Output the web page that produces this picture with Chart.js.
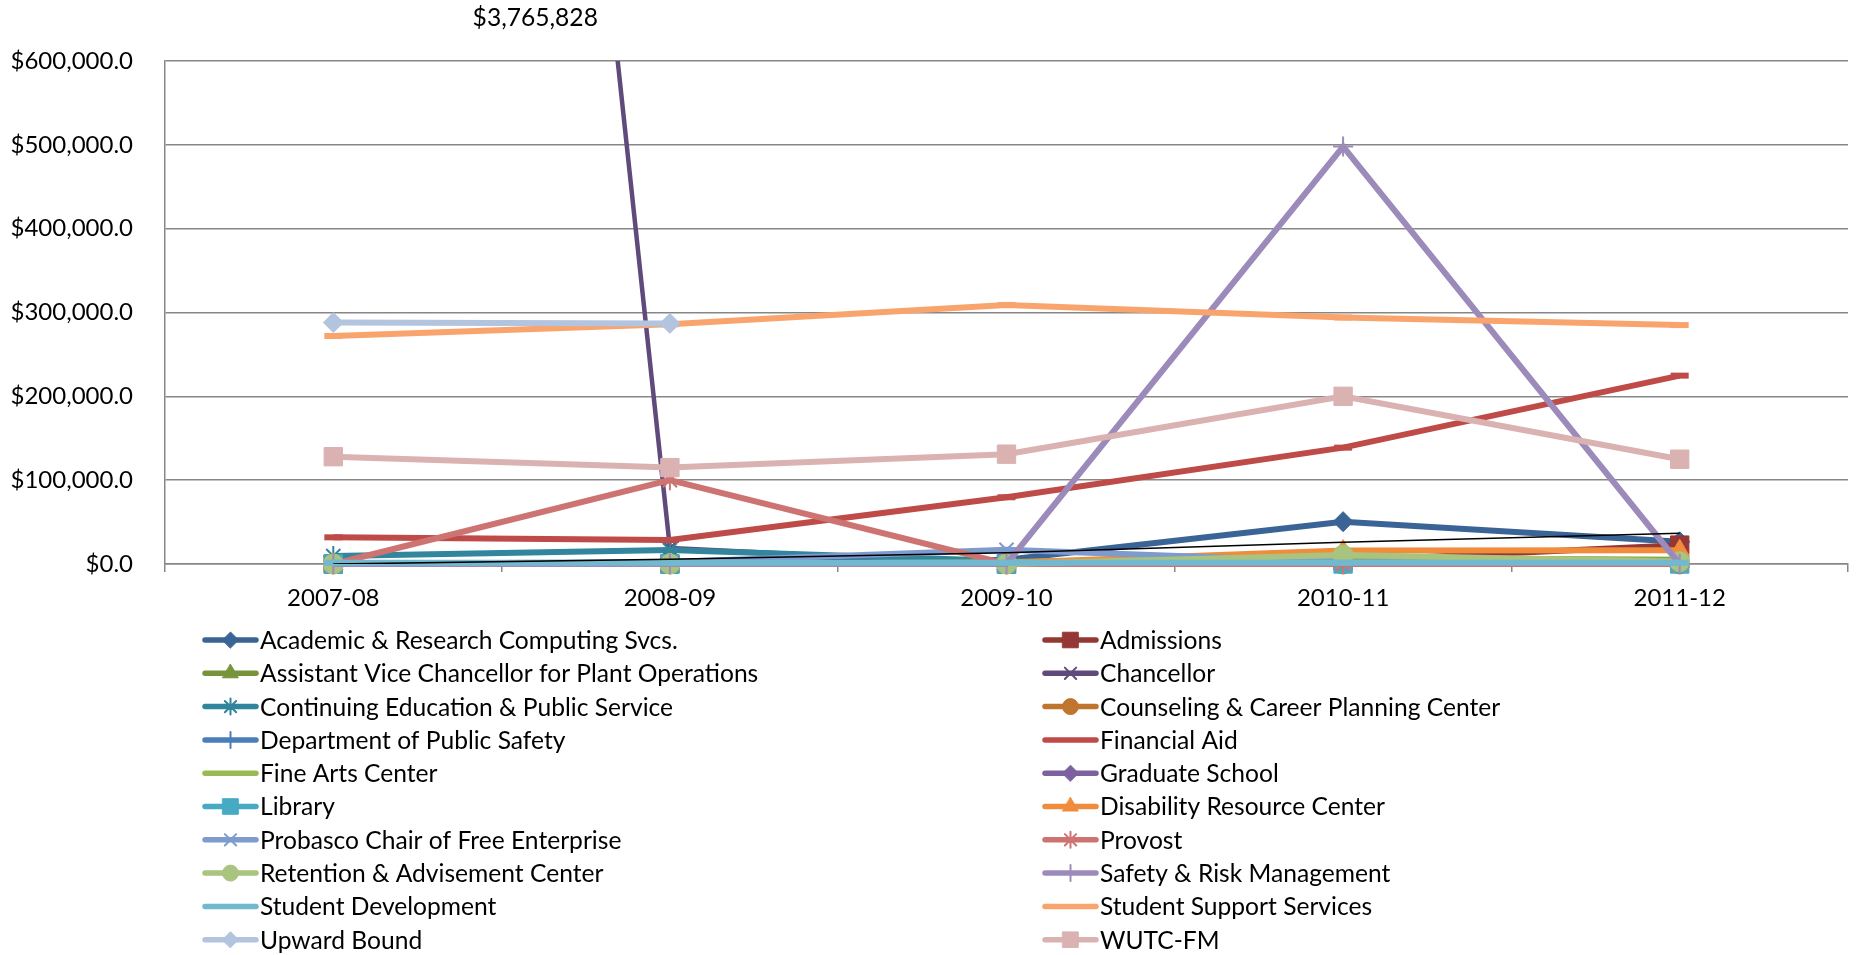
<!DOCTYPE html>
<html>
<head>
<meta charset="utf-8">
<title>Department spending 2007-2012</title>
<script src="https://cdn.jsdelivr.net/npm/chart.js"></script>
<style>
  html, body { margin: 0; padding: 0; background: #fff; }
  #wrap { width: 1863px; height: 955px; }
</style>
</head>
<body>
<div id="wrap"><canvas id="chart" width="1863" height="955"></canvas></div>
<script>
// categories
const years = ['2007-08', '2008-09', '2009-10', '2010-11', '2011-12'];

// series values
const academic       = [0, 0, 5000, 50500, 26500];
const admissions     = [0, 0, 0, 4000, 22500];
const assistantVC    = [0, 0, 0, 7000, 5000];
const chancellor     = [3765828, 19000, 0, 0, 0];
const continuingEd   = [9500, 16700, 3500, 1000, 1000];
const counseling     = [0, 0, 0, 0, 0];
const publicSafety   = [0, 0, 0, 0, 0];
const financialAid   = [31800, 28600, 79600, 138800, 224700];
const fineArts       = [0, 0, 2000, 9000, 4000];
const graduateSchool = [0, 0, 0, 0, 0];
const library        = [0, 0, 0, 0, 0];
const disability     = [0, 0, 1500, 16000, 16500];
const probasco       = [0, 2500, 17000, 2500, 0];
const provost        = [0, 100000, 0, 0, 0];
const retention      = [0, 0, 0, 10700, 2800];
const safety         = [0, 0, 0, 498000, 0];
const studentDev     = [1500, 1500, 1500, 1500, 1500];
const studentSupport = [272000, 286000, 309000, 294000, 285000];
const upwardBound    = [288000, 287000, null, null, null];
const wutc           = [128000, 115000, 131000, 200000, 125000];
const trendLine      = [0, 5600, 13500, 25900, 36600];

// y axis tick values
const yTicks = [0, 100000, 200000, 300000, 400000, 500000, 600000];

const seriesNames = [
  'Academic & Research Computing Svcs.', 'Admissions',
  'Assistant Vice Chancellor for Plant Operations', 'Chancellor',
  'Continuing Education & Public Service', 'Counseling & Career Planning Center',
  'Department of Public Safety', 'Financial Aid',
  'Fine Arts Center', 'Graduate School',
  'Library', 'Disability Resource Center',
  'Probasco Chair of Free Enterprise', 'Provost',
  'Retention & Advisement Center', 'Safety & Risk Management',
  'Student Development', 'Student Support Services',
  'Upward Bound', 'WUTC-FM'
];
const seriesValues = [
  academic, admissions, assistantVC, chancellor, continuingEd, counseling,
  publicSafety, financialAid, fineArts, graduateSchool, library, disability,
  probasco, provost, retention, safety, studentDev, studentSupport, upwardBound, wutc
];

// styling
const seriesColors = [
  '#3A6396', '#953735', '#77933C', '#604A7B', '#31859C', '#C0752F',
  '#4A7EBB', '#BE4B48', '#98B954', '#7D60A0', '#46AAC5', '#F08C3C',
  '#7E9BCE', '#CD7371', '#A9C47F', '#9C8BBA', '#72B8CE', '#F9A46D', '#B3C4DF', '#DAB2B1'
];
const seriesMarkers = [
  'rectRot', 'rect', 'triangle', 'crossRot', 'star', 'circle', 'cross', 'line',
  'line', 'rectRot', 'rect', 'triangle', 'crossRot', 'star', 'circle', 'cross',
  'line', 'line', 'rectRot', 'rect'
];
const markerSize = { rectRot: 10, rect: 13, triangle: 11, crossRot: 10, star: 10, circle: 10, cross: 10, line: 9 };
const legendMarkerSize = { rectRot: 8, rect: 11, triangle: 9, crossRot: 8, star: 8, circle: 8, cross: 8, line: 0 };
const strokeOnly = ['crossRot', 'star', 'cross', 'line'];

const FONT = 'Lato';
Chart.defaults.font.family = FONT;
Chart.defaults.font.size = 24;
Chart.defaults.color = '#000';

const datasets = seriesNames.map((name, i) => {
  const style = seriesMarkers[i];
  const ds = {
    label: name,
    data: seriesValues[i],
    borderColor: seriesColors[i],
    backgroundColor: seriesColors[i],
    borderWidth: 6,
    tension: 0,
    pointStyle: style,
    pointRadius: markerSize[style],
    pointHoverRadius: markerSize[style],
    pointBackgroundColor: seriesColors[i],
    pointBorderColor: seriesColors[i],
    pointBorderWidth: strokeOnly.includes(style) ? (style === 'line' ? 6 : 2) : 1,
    order: 100 - i,
    clip: false
  };
  if (name === 'Chancellor') {
    ds.borderWidth = 4.5;
    ds.clip = { left: false, top: 0, right: false, bottom: false };
  }
  return ds;
});

datasets.push({
  label: 'trend',
  data: trendLine,
  borderColor: '#000',
  borderWidth: 1.6,
  pointRadius: 0,
  pointHoverRadius: 0,
  tension: 0,
  order: 0,
  hideInLegend: true
});

// legend in two columns below the plot
const columnLegend = {
  id: 'columnLegend',
  afterDraw(chart) {
    const ctx = chart.ctx;
    const items = chart.data.datasets.filter(d => !d.hideInLegend);
    const colX = [202, 1042];
    const top = chart.chartArea.bottom + 76;
    const rowH = 33.3;
    items.forEach((ds, i) => {
      const x0 = colX[i % 2];
      const y = top + Math.floor(i / 2) * rowH;
      ctx.save();
      ctx.strokeStyle = ds.borderColor;
      ctx.lineWidth = 5.5;
      ctx.lineCap = 'round';
      ctx.beginPath();
      ctx.moveTo(x0 + 3, y);
      ctx.lineTo(x0 + 54, y);
      ctx.stroke();
      const r = legendMarkerSize[ds.pointStyle];
      if (r > 0) {
        ctx.fillStyle = ds.pointBackgroundColor;
        ctx.strokeStyle = ds.pointBorderColor;
        ctx.lineWidth = ds.pointBorderWidth;
        Chart.helpers.drawPoint(ctx, {
          pointStyle: ds.pointStyle, rotation: 0, radius: r, borderWidth: ds.pointBorderWidth
        }, x0 + 28.5, y);
      }
      ctx.fillStyle = '#000';
      ctx.font = '24.6px ' + FONT;
      ctx.textAlign = 'left';
      ctx.textBaseline = 'middle';
      ctx.fillText(ds.label, x0 + 58, y + 1);
      ctx.restore();
    });
  }
};

// label for the Chancellor value that runs off the top of the chart
const offScaleNote = {
  id: 'offScaleNote',
  afterDraw(chart) {
    const ctx = chart.ctx;
    const x = chart.scales.x.getPixelForValue(0.6);
    ctx.save();
    ctx.fillStyle = '#000';
    ctx.font = '24.6px ' + FONT;
    ctx.textAlign = 'center';
    ctx.textBaseline = 'middle';
    ctx.fillText('$' + chancellor[0].toLocaleString('en-US'), x, chart.chartArea.top - 43);
    ctx.restore();
  }
};

const gridColor = '#878787';

new Chart(document.getElementById('chart').getContext('2d'), {
  type: 'line',
  data: { labels: years, datasets: datasets },
  options: {
    responsive: false,
    animation: false,
    devicePixelRatio: 1,
    layout: { padding: { left: 11, right: 11, top: 61, bottom: 344 } },
    plugins: {
      legend: { display: false },
      tooltip: { enabled: false }
    },
    scales: {
      x: {
        offset: true,
        grid: {
          offset: true,
          drawOnChartArea: false,
          drawTicks: true,
          tickLength: 8,
          color: gridColor,
          lineWidth: 1.5
        },
        border: { display: true, color: gridColor, width: 1.5 },
        ticks: { padding: 12, font: { size: 24 }, color: '#000', maxRotation: 0 },
        afterFit(scale) { scale.height = 47; }
      },
      y: {
        min: 0,
        max: 600000,
        afterBuildTicks(scale) { scale.ticks = yTicks.map(v => ({ value: v })); },
        grid: { drawTicks: false, color: gridColor, lineWidth: 1.5 },
        border: { display: true, color: gridColor, width: 1.5 },
        ticks: {
          padding: 32,
          font: { size: 24 },
          color: '#000',
          callback: v => '$' + v.toLocaleString('en-US', { minimumFractionDigits: 1, maximumFractionDigits: 1 })
        },
        afterFit(scale) { scale.width = 154; }
      }
    }
  },
  plugins: [columnLegend, offScaleNote]
});
</script>
</body>
</html>
